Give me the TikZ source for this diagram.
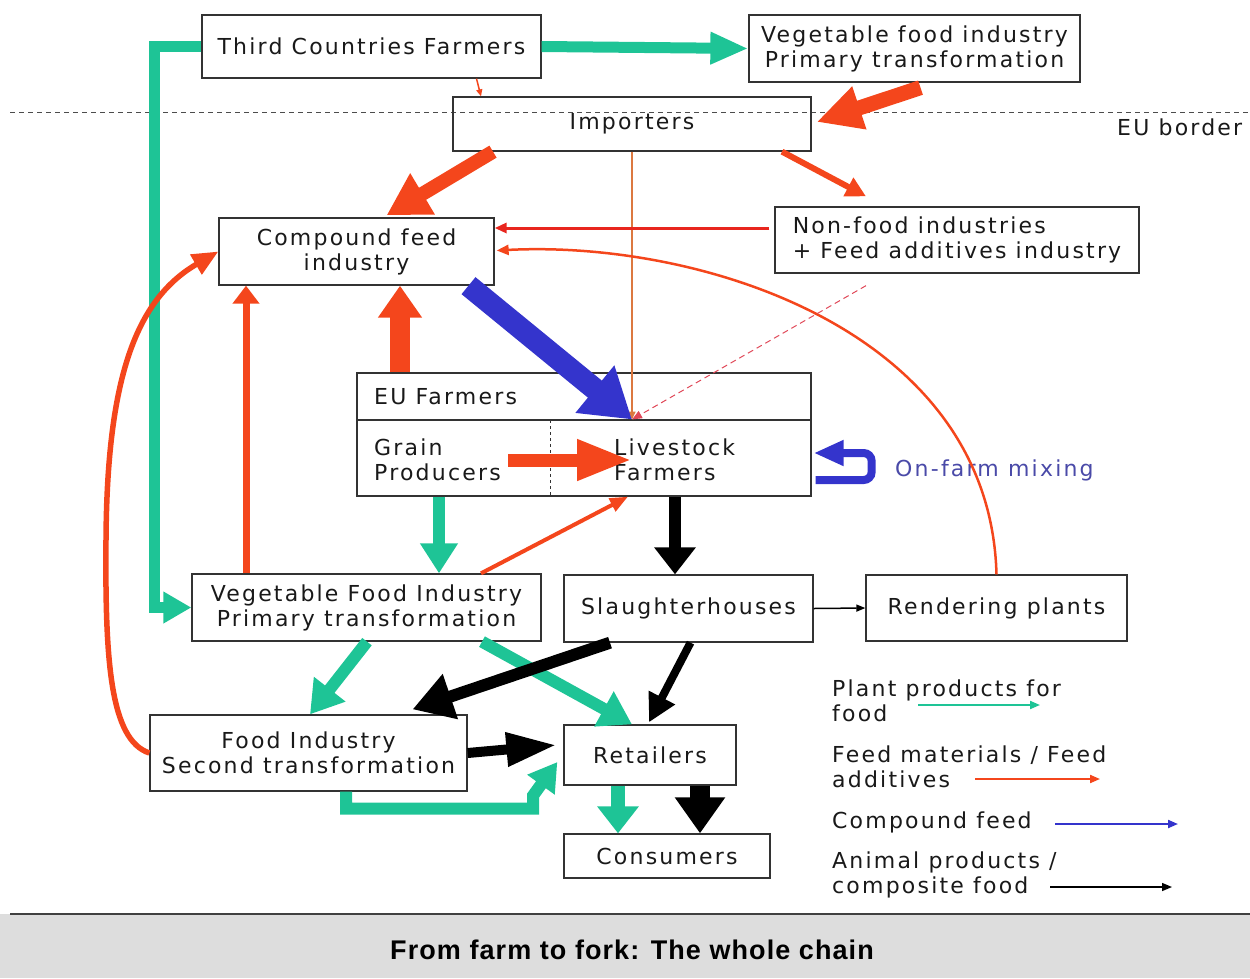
\documentclass[tikz,border=0pt]{standalone}
\usepackage{fontspec}
\setmainfont{DejaVu Sans}[LetterSpace=10]
\newfontfamily\titlefont{Liberation Sans}[LetterSpace=4]
\usepackage{tikz}
\usetikzlibrary{arrows.meta,calc,positioning}
\definecolor{plantGreen}{HTML}{1EC496}
\definecolor{feedRed}{HTML}{F4461C}
\definecolor{additiveRed}{HTML}{E8261E}
\definecolor{importBrown}{HTML}{DC7840}
\definecolor{dashRed}{HTML}{E04858}
\definecolor{compoundBlue}{HTML}{3434CC}
\definecolor{mixBlue}{HTML}{4A4AA8}
\definecolor{bandGray}{HTML}{DDDDDD}

\tikzset{
  box/.style={draw=black!80, line width=1.3pt, inner sep=0pt, align=center},
  tip/.style n args={3}{line width=#1, -{Triangle[length=#2,width=#3]}},
  plant/.style={draw=plantGreen},
  feed/.style={draw=feedRed},
  compound/.style={draw=compoundBlue},
  animal/.style={draw=black},
}

\begin{document}
\begin{tikzpicture}[x=1pt, y=-1pt, font=\fontsize{22}{25}\selectfont, text=black!90]
  \useasboundingbox (0,0) rectangle (1250,978);

  \fill[bandGray] (0,914) rectangle (1250,978);
  \draw[black!75, line width=2pt] (10,914) -- (1250,914);
  \node[font={\titlefont\bfseries\fontsize{27}{30}\selectfont}, text=black] (caption) at (632,950) {From farm to fork: The whole chain};

  \draw[black!70, line width=1pt, dash pattern=on 5pt off 4pt] (10,112) -- (1250,112);
  \node[anchor=west, inner sep=0pt] (euBorder) at (1117,127) {EU border};

  \node[box, minimum width=339pt, minimum height=63pt] (thirdFarmers) at (371.5,46.5) {Third Countries Farmers};
  \node[box, minimum width=331pt, minimum height=67pt] (vegTop) at (914.5,48.5) {Vegetable food industry\\Primary transformation};
  \node[box, minimum width=358pt, minimum height=54pt] (importers) at (632,124) {Importers};
  \node[box, minimum width=275pt, minimum height=67pt] (compound) at (356.5,251.5) {Compound feed\\industry};
  \node[box, minimum width=364pt, minimum height=66pt, align=left] (nonFood) at (957,240) {Non-food industries\\+ Feed additives industry};
  \node[box, minimum width=349pt, minimum height=67pt] (vegLow) at (366.5,607.5) {Vegetable Food Industry\\Primary transformation};
  \node[box, minimum width=249pt, minimum height=67pt] (slaughter) at (688.5,608.5) {Slaughterhouses};
  \node[box, minimum width=261pt, minimum height=66pt] (rendering) at (996.5,608) {Rendering plants};
  \node[box, minimum width=317pt, minimum height=76pt] (foodInd) at (308.5,753) {Food Industry\\Second transformation};
  \node[box, minimum width=172pt, minimum height=60pt] (retailers) at (650,755) {Retailers};
  \node[box, minimum width=206pt, minimum height=44pt] (consumers) at (667,856) {Consumers};

  \node[box, minimum width=454pt, minimum height=123pt] (euFarmers) at (584,434.5) {};
  \draw[black!80, line width=1.3pt] ([yshift=14.5pt]euFarmers.west) -- ([yshift=14.5pt]euFarmers.east);
  \draw[black!80, line width=1pt, dash pattern=on 3pt off 3pt] ([xshift=-34pt,yshift=14.5pt]euFarmers.center) -- ([xshift=-34pt]euFarmers.south);
  \node[anchor=west, inner sep=0pt] (euTitle) at (374,397) {EU Farmers};
  \node[anchor=west, inner sep=0pt, align=left] (grain) at (374,460) {Grain\\Producers};
  \node[anchor=west, inner sep=0pt, align=left] (livestock) at (614,460) {Livestock\\Farmers};
  \node[anchor=west, inner sep=0pt, text=mixBlue] (mixing) at (895,470) {On-farm mixing};
  \coordinate (feedIn) at ([xshift=48pt,yshift=15pt]euFarmers.center);
  \coordinate (additiveStart) at ([xshift=-91pt,yshift=-12pt]nonFood.south);

  \draw[plant, tip={11pt}{38pt}{30pt}] (thirdFarmers.east) -- (vegTop.west);
  \draw[plant, tip={11pt}{28pt}{30pt}] (thirdFarmers.west) -- ++(-47,0) |- (vegLow.west);
  \draw[feed, tip={1.5pt}{7pt}{6pt}] ([xshift=105pt]thirdFarmers.south) -- ([xshift=-151pt]importers.north);
  \draw[feed, tip={15pt}{45pt}{42pt}] ([xshift=6pt,yshift=-5pt]vegTop.south) -- ([xshift=5pt,yshift=2pt]importers.east);
  \draw[feed, tip={14pt}{42pt}{45pt}] ([xshift=-139pt]importers.south) -- ([xshift=30pt,yshift=2pt]compound.north);
  \draw[feed, tip={6pt}{20pt}{20pt}] ([xshift=150pt]importers.south) -- ([xshift=-91pt,yshift=10pt]nonFood.north);
  \draw[importBrown, tip={1.5pt}{8pt}{7pt}] (importers.south) -- (feedIn);
  \draw[additiveRed, tip={3pt}{12pt}{10pt}] ([xshift=-5pt,yshift=12pt]nonFood.west) -- ([yshift=23.5pt]compound.east);
  \draw[feed, tip={2.5pt}{12pt}{10pt}] (rendering.north) .. controls (990,330) and (700,240) .. ([xshift=2pt,yshift=1pt]compound.east);
  \draw[dashRed, dash pattern=on 6pt off 4pt, tip={1pt}{10pt}{8pt}] (additiveStart) -- (feedIn);
  \draw[compound, tip={22pt}{48pt}{58pt}] ([xshift=112pt]compound.south) -- (feedIn);
  \draw[feed, tip={20pt}{32pt}{42pt}] ([xshift=-184pt]euFarmers.north) -- ([xshift=43.5pt]compound.south);
  \draw[feed, tip={7pt}{18pt}{26pt}] ([xshift=-120.5pt]vegLow.north) -- ([xshift=-110.5pt]compound.south);
  \draw[feed, tip={5.5pt}{26pt}{22pt}] (foodInd.west) .. controls (110,740) and (105,660) .. (106,540) .. controls (107,380) and (135,300) .. (compound.west);
  \draw[feed, tip={13pt}{55pt}{38pt}] ([xshift=-76pt,yshift=-25.5pt]euFarmers.center) -- ([xshift=48pt,yshift=-25.5pt]euFarmers.center);
  \draw[compound, tip={8pt}{30pt}{24pt}, rounded corners=8pt] ([xshift=4pt,yshift=-45.5pt]euFarmers.east) -- ++(56,0) -- ++(0,-27) -- ([xshift=2pt,yshift=-18.5pt]euFarmers.east);
  \draw[plant, tip={12pt}{30pt}{36pt}] ([xshift=-145pt]euFarmers.south) -- ([xshift=72.5pt]vegLow.north);
  \draw[feed, tip={4pt}{18pt}{14pt}] ([xshift=114.5pt]vegLow.north) -- ([xshift=44pt]euFarmers.south);
  \draw[animal, tip={12pt}{27pt}{40pt}] ([xshift=91pt]euFarmers.south) -- ([xshift=-13.5pt]slaughter.north);
  \draw[animal, tip={1.5pt}{9pt}{7pt}] (slaughter.east) -- (rendering.west);
  \draw[plant, tip={12pt}{32pt}{38pt}] ([xshift=0.5pt]vegLow.south) -- ([xshift=1.5pt]foodInd.north);
  \draw[plant, tip={12pt}{32pt}{38pt}] ([xshift=115.5pt]vegLow.south) -- ([xshift=-18pt]retailers.north);
  \draw[animal, tip={12pt}{40pt}{45pt}] ([xshift=-78.5pt]slaughter.south) -- ([xshift=104pt,yshift=5pt]foodInd.north);
  \draw[animal, tip={8pt}{28pt}{28pt}] ([xshift=2pt]slaughter.south) -- ([xshift=-1pt,yshift=2pt]retailers.north);
  \draw[animal, tip={10pt}{50pt}{32pt}] (foodInd.east) -- ([xshift=-7pt,yshift=10pt]retailers.west);
  \draw[plant, tip={12pt}{28pt}{32pt}] ([xshift=37.5pt]foodInd.south) -- ++(0,17) -- ++(187,0) -- ++(0,-13) -- ([xshift=-6pt,yshift=-7pt]retailers.west);
  \draw[plant, tip={14pt}{27pt}{40pt}] ([xshift=-32pt]retailers.south) -- ([xshift=-49pt]consumers.north);
  \draw[animal, tip={20pt}{36pt}{48pt}] ([xshift=50pt]retailers.south) -- ([xshift=33pt]consumers.north);

  \node[anchor=west, inner sep=0pt, align=left] (legPlant) at (832,700.5) {Plant products for\\food};
  \node[anchor=west, inner sep=0pt, align=left] (legFeed) at (832,767) {Feed materials / Feed\\additives};
  \node[anchor=west, inner sep=0pt, align=left] (legCompound) at (832,822) {Compound feed};
  \node[anchor=west, inner sep=0pt, align=left] (legAnimal) at (832,874.5) {Animal products /\\composite food};
  \draw[plant, tip={2pt}{10pt}{8pt}] ([xshift=86pt,yshift=-4.5pt]legPlant.west) -- ++(122,0);
  \draw[feed, tip={2pt}{10pt}{8pt}] ([xshift=143pt,yshift=-12pt]legFeed.west) -- ++(125,0);
  \draw[compound, tip={2pt}{10pt}{8pt}] ([xshift=223pt,yshift=-2pt]legCompound.west) -- ++(123,0);
  \draw[animal, tip={1.5pt}{10pt}{8pt}] ([xshift=218pt,yshift=-12.5pt]legAnimal.west) -- ++(122,0);
\end{tikzpicture}
\end{document}
